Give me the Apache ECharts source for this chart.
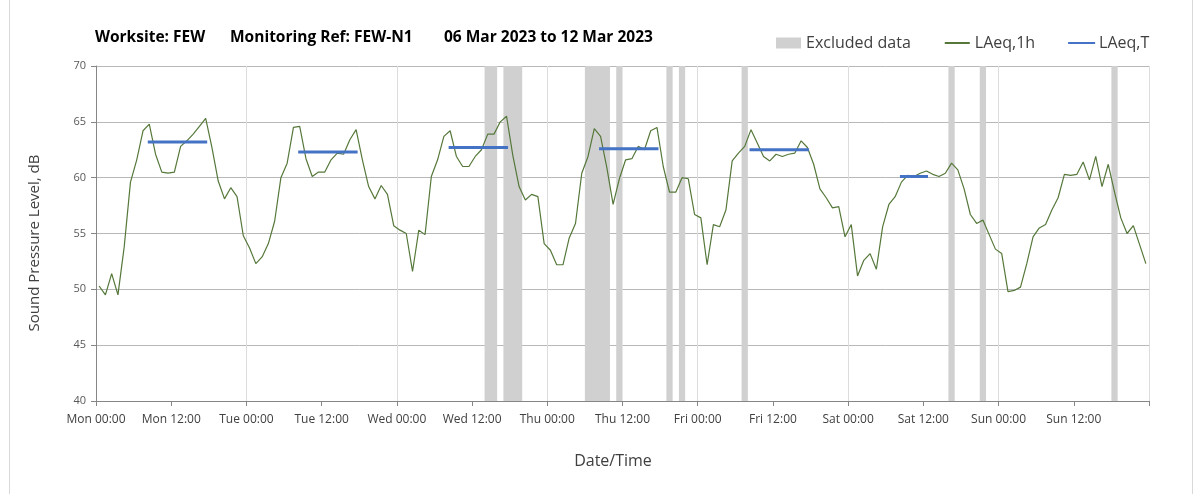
<!DOCTYPE html>
<html>
<head>
<meta charset="utf-8">
<script src="https://cdn.jsdelivr.net/npm/echarts@6/dist/echarts.min.js"></script>
<style>
html,body{margin:0;padding:0;background:#fff;}
#chart{width:1203px;height:494px;}
</style>
</head>
<body>
<div id="chart"></div>
<script>
// Hourly periods: index 0 = Mon 00:00 ... 167 = Sun 23:00
const dayNames = ['Mon', 'Tue', 'Wed', 'Thu', 'Fri', 'Sat', 'Sun'];
const yTicks = [40, 45, 50, 55, 60, 65, 70];

// LAeq,1h values (dB), one per hour
const laeq1h = [
  50.3, 49.5, 51.4, 49.5, 53.8, 59.6, 61.6, 64.2, 64.8, 62.1, 60.5, 60.4,
  60.5, 62.8, 63.3, 63.9, 64.6, 65.3, 62.7, 59.7, 58.1, 59.1, 58.3, 54.8,
  53.7, 52.3, 52.9, 54.1, 56.1, 60.0, 61.3, 64.5, 64.6, 61.7, 60.1, 60.5,
  60.5, 61.6, 62.2, 62.1, 63.4, 64.3, 61.6, 59.2, 58.1, 59.3, 58.5, 55.7,
  55.3, 55.0, 51.6, 55.3, 54.9, 60.1, 61.6, 63.7, 64.2, 61.9, 61.0, 61.0,
  61.9, 62.5, 63.9, 63.9, 65.0, 65.5, 62.0, 59.2, 58.0, 58.5, 58.3, 54.1,
  53.5, 52.2, 52.2, 54.6, 55.9, 60.4, 61.9, 64.4, 63.7, 60.9, 57.6, 59.9,
  61.6, 61.7, 62.8, 62.5, 64.2, 64.5, 61.0, 58.7, 58.7, 60.0, 59.9, 56.7,
  56.4, 52.2, 55.8, 55.6, 57.1, 61.5, 62.2, 62.8, 64.3, 63.1, 61.9, 61.5,
  62.1, 61.9, 62.1, 62.2, 63.3, 62.7, 61.2, 59.0, 58.2, 57.3, 57.4, 54.7,
  55.8, 51.2, 52.6, 53.2, 51.8, 55.6, 57.6, 58.3, 59.6, 60.2, 60.1, 60.4,
  60.6, 60.3, 60.1, 60.4, 61.3, 60.7, 59.0, 56.7, 55.9, 56.2, 54.9, 53.6,
  53.2, 49.8, 49.9, 50.2, 52.3, 54.7, 55.5, 55.8, 57.1, 58.2, 60.3, 60.2,
  60.3, 61.4, 59.8, 61.9, 59.2, 61.2, 58.7, 56.4, 55.0, 55.7, 54.0, 52.3
];

// LAeq,T periods (first hour, last hour, level)
const periodStart = [8, 32, 56, 80, 104, 128];
const periodEnd   = [17, 41, 65, 89, 113, 132];
const periodValue = [63.2, 62.3, 62.7, 62.6, 62.5, 60.1];

// Excluded data (hour boundaries)
const exclStart = [62, 65, 78, 83, 91, 93, 103, 136, 141, 162];
const exclEnd   = [64, 68, 82, 84, 92, 94, 104, 137, 142, 163];

const FONT = 'Open Sans';
const lineData = laeq1h.map((v, i) => [i + 0.5, v]);
const tData = [];
periodStart.forEach((s, k) => {
  tData.push([s + 0.5, periodValue[k]]);
  tData.push([periodEnd[k] + 0.5, periodValue[k]]);
  tData.push('-');
});
const exclAreas = exclStart.map((s, k) => [{ xAxis: s }, { xAxis: exclEnd[k] }]);

function xLabel(v) {
  const d = Math.floor(v / 24);
  const h = v % 24;
  if (d < 0 || d > 6) return '';
  return dayNames[d] + ' ' + (h === 0 ? '00:00' : '12:00');
}

const titleFont = 'bold 15.5px "Open Sans"';
const chart = echarts.init(document.getElementById('chart'), null, { renderer: 'canvas' });
chart.setOption({
  animation: false,
  backgroundColor: '#ffffff',
  textStyle: { fontFamily: FONT },
  graphic: [
    { type: 'rect', shape: { x: 9.5, y: -5, width: 1183, height: 520 }, style: { fill: 'none', stroke: '#d9d9d9', lineWidth: 1 }, silent: true, z: -10 },
    { type: 'text', left: 95, top: 30, style: { text: 'Worksite: FEW', font: titleFont, fill: '#000' } },
    { type: 'text', left: 230, top: 30, style: { text: 'Monitoring Ref: FEW-N1', font: titleFont, fill: '#000' } },
    { type: 'text', left: 444, top: 30, style: { text: '06 Mar 2023 to 12 Mar 2023', font: titleFont, fill: '#000' } },
    { type: 'text', x: 35, y: 243, rotation: Math.PI / 2, style: { text: 'Sound Pressure Level, dB', font: '15px "Open Sans"', fill: '#404040', align: 'center', verticalAlign: 'middle' } },
    { type: 'text', x: 613, y: 461, style: { text: 'Date/Time', font: '16px "Open Sans"', fill: '#404040', align: 'center', verticalAlign: 'middle' } }
  ],
  legend: {
    left: 771, top: 30,
    itemWidth: 25, itemHeight: 11, itemGap: 33,
    textStyle: { fontSize: 16, color: '#404040', fontFamily: FONT },
    data: [
      { name: 'Excluded data', icon: 'rect', itemStyle: { color: '#d0d0d0' } },
      { name: 'LAeq,1h', itemStyle: { opacity: 0 } },
      { name: 'LAeq,T', itemStyle: { opacity: 0 } }
    ]
  },
  grid: { left: 96, right: 54, top: 66, bottom: 93, containLabel: false },
  xAxis: [
    {
      type: 'value', min: 0, max: 168, interval: 12,
      axisLine: { show: true, lineStyle: { color: '#868686', width: 1 } },
      axisTick: { show: true, length: 5, lineStyle: { color: '#868686' } },
      axisLabel: { formatter: xLabel, fontSize: 12, color: '#404040', margin: 13, fontFamily: FONT },
      splitLine: { show: false }
    },
    {
      type: 'value', min: 0, max: 168, interval: 24, position: 'bottom',
      axisLine: { show: false }, axisTick: { show: false }, axisLabel: { show: false },
      splitLine: { show: true, lineStyle: { color: '#dcdcdc', width: 1 } }
    }
  ],
  yAxis: {
    type: 'value', min: yTicks[0], max: yTicks[yTicks.length - 1], interval: 5,
    axisLine: { show: true, lineStyle: { color: '#868686', width: 1 } },
    axisTick: { show: true, length: 5, lineStyle: { color: '#868686' } },
    axisLabel: { fontSize: 11, color: '#595959', margin: 10, fontFamily: FONT },
    splitLine: { show: true, lineStyle: { color: '#b8b8b8', width: 1 } }
  },
  series: [
    {
      name: 'Excluded data', type: 'line', data: [], z: 1, silent: true,
      itemStyle: { color: '#d0d0d0' },
      markArea: { silent: true, itemStyle: { color: '#d0d0d0', opacity: 1 }, data: exclAreas }
    },
    {
      name: 'LAeq,1h', type: 'line', data: lineData, symbol: 'none', z: 3,
      itemStyle: { color: '#55783a' },
      lineStyle: { color: '#55783a', width: 1.2 }
    },
    {
      name: 'LAeq,T', type: 'line', data: tData, symbol: 'none', z: 4, connectNulls: false,
      itemStyle: { color: '#4472c4' },
      lineStyle: { color: '#4472c4', width: 3, cap: 'square' }
    }
  ]
});
</script>
</body>
</html>
